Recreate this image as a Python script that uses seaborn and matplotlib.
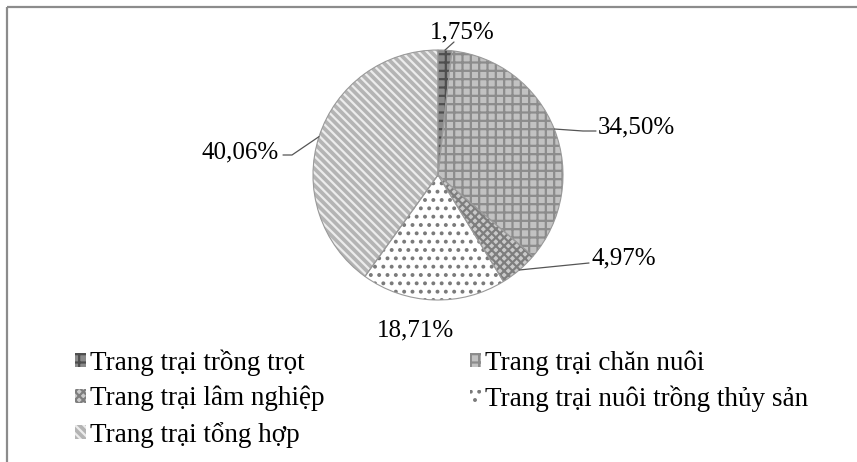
import numpy as np
import matplotlib
matplotlib.use("Agg")
import matplotlib.pyplot as plt
import seaborn as sns

# ---- data ----
categories = ["Trang trại trồng trọt", "Trang trại chăn nuôi", "Trang trại lâm nghiệp",
              "Trang trại nuôi trồng thủy sản", "Trang trại tổng hợp"]
shares = [1.75, 34.50, 4.97, 18.71, 40.06]
value_labels = ["1,75%", "34,50%", "4,97%", "18,71%", "40,06%"]

# ---- style ----
sns.set_theme(style="white")
plt.rcParams['font.family'] = ['Liberation Serif', 'DejaVu Serif']
plt.rcParams['hatch.linewidth'] = 1.6

face_colors = ["#8a8a8a", "#c2c2c2", "#cacaca", "#ffffff", "#b4b4b4"]
hatch_colors = ["#4e4e4e", "#8c8c8c", "#7e7e7e", "#7a7a7a", "#ececec"]
hatches = ["++", "++", "xxxx", "..", "\\\\\\\\"]

W, H = 857, 462
fig = plt.figure(figsize=(W / 100, H / 100), dpi=100)
ax = fig.add_axes([0, 0, 1, 1])

center = (438, H - 175)
R = 125
wedges, _ = ax.pie(shares, startangle=90, counterclock=False, center=center, radius=R,
                   colors=face_colors, wedgeprops=dict(linewidth=0))
for w, h, hc in zip(wedges, hatches, hatch_colors):
    w.set_hatch(h)
    w.set_edgecolor(hc)
    w.set_linewidth(0)

# outline
outline, _ = ax.pie(shares, startangle=90, counterclock=False, center=center, radius=R,
                    colors=["none"] * len(shares),
                    wedgeprops=dict(linewidth=0.8, edgecolor="#9a9a9a", facecolor="none"))

ax.set_xlim(0, W)
ax.set_ylim(0, H)
ax.set_aspect('equal')
ax.axis('off')

# frame lines (top and left)
ax.plot([7, W], [H - 6.5, H - 6.5], color="#8c8c8c", lw=1.6, solid_capstyle='butt')
ax.plot([7.5, 7.5], [0, H - 6.5], color="#8c8c8c", lw=1.6, solid_capstyle='butt')

# labels (positions in pixel coordinates, y from top)
label_pos = [(462, 38), (636, 133), (624, 264), (415, 336), (240, 158)]
elbows = [[(454, 42)], [(583, 131), (596, 131)], [(589, 263)], [], [(292, 155), (283, 155)]]

for i, w in enumerate(wedges):
    mid = np.deg2rad((w.theta1 + w.theta2) / 2)
    sx = center[0] + R * np.cos(mid)
    sy = center[1] + R * np.sin(mid)
    if elbows[i]:
        xs = [sx] + [p[0] for p in elbows[i]]
        ys = [sy] + [H - p[1] for p in elbows[i]]
        ax.plot(xs, ys, color="#555555", lw=0.9)
    lx, ly = label_pos[i]
    ax.text(lx, H - ly, value_labels[i], ha='center', va='baseline', fontsize=18, color="#000000")

# legend: row-major order in reference -> reorder for column filling
order = [0, 2, 4, 1, 3]
leg = fig.legend([wedges[i] for i in order], [categories[i] for i in order],
                 loc='upper left', bbox_to_anchor=(75 / W, 1 - 349 / H), ncol=2,
                 frameon=False, fontsize=19.5, handlelength=0.42, handleheight=0.42,
                 handletextpad=0.15, columnspacing=5.35, labelspacing=0.38,
                 borderpad=0, borderaxespad=0)
for t in leg.get_texts():
    t.set_color("#000000")

fig.savefig("out.png", dpi=100)
